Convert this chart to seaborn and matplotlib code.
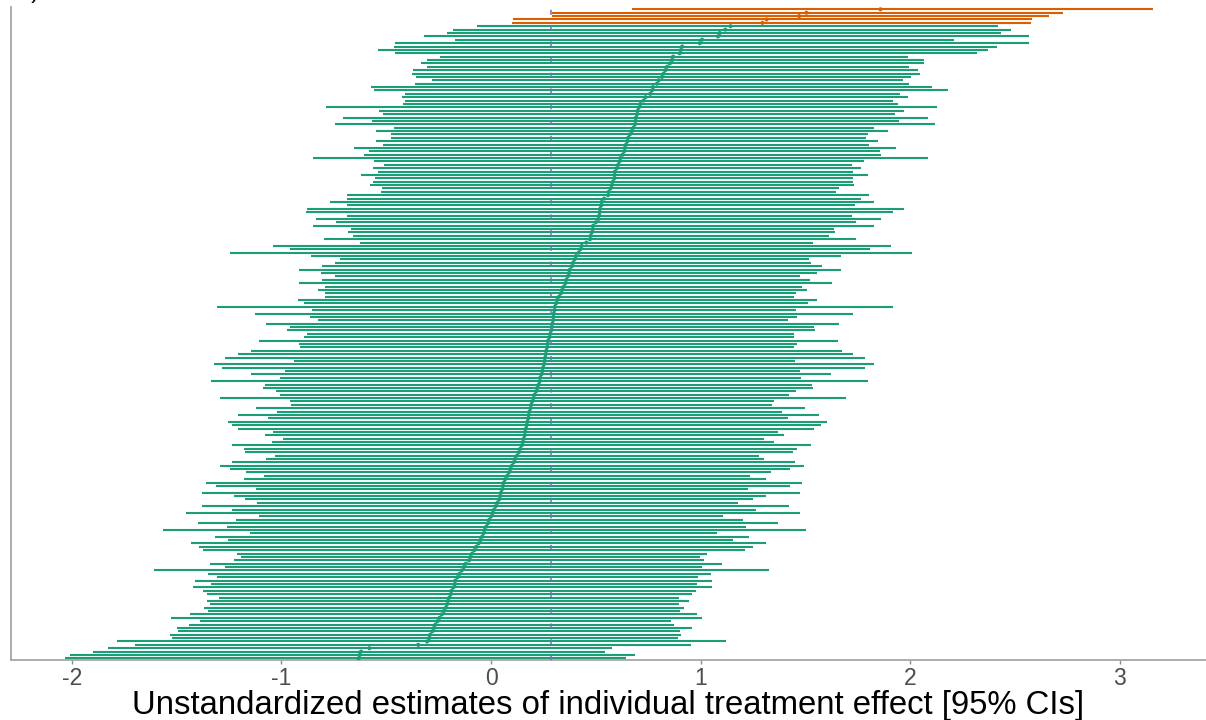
import numpy as np
import pandas as pd
import matplotlib
matplotlib.use("Agg")
import matplotlib.pyplot as plt
import seaborn as sns

# Point estimates per participant, top row first (sorted by estimate)
estimate = [
    1.858, 1.505, 1.47, 1.315, 1.295,
    1.143, 1.118, 1.091, 1.083, 1.007, 0.996, 0.912, 0.907, 0.900, 0.869,
    0.864, 0.853, 0.840, 0.832, 0.824, 0.816, 0.800, 0.792, 0.773, 0.768,
    0.760, 0.737, 0.728, 0.713, 0.705, 0.700, 0.697, 0.692,
    0.690, 0.687, 0.680, 0.672, 0.662, 0.655, 0.650, 0.645, 0.639, 0.635,
    0.628, 0.618, 0.612, 0.607, 0.600, 0.592, 0.590, 0.588, 0.582, 0.576,
    0.570, 0.562, 0.558, 0.540, 0.528, 0.525, 0.521, 0.518, 0.517, 0.512,
    0.500, 0.488, 0.485, 0.480, 0.476, 0.472, 0.455, 0.433, 0.425, 0.418,
    0.405, 0.398, 0.392, 0.385, 0.377, 0.372, 0.366, 0.360, 0.355, 0.348,
    0.340, 0.333, 0.325, 0.315, 0.310, 0.305, 0.302, 0.300, 0.298, 0.296,
    0.293, 0.290, 0.287, 0.283, 0.278, 0.273, 0.270, 0.267, 0.264, 0.261,
    0.259, 0.256, 0.252, 0.249, 0.245, 0.240, 0.235, 0.232, 0.228, 0.222,
    0.215, 0.208, 0.202, 0.196, 0.192, 0.188, 0.184, 0.180, 0.177, 0.174,
    0.170, 0.167, 0.163, 0.160, 0.157, 0.152, 0.146, 0.140, 0.133, 0.125,
    0.115, 0.108, 0.100, 0.092, 0.085, 0.078, 0.067, 0.062, 0.057, 0.052,
    0.048, 0.043, 0.038, 0.030, 0.022, 0.015, 0.008, 0.000, -0.008, -0.015,
    -0.022, -0.030, -0.036, -0.042, -0.050, -0.060, -0.070, -0.080, -0.090, -0.098,
    -0.105, -0.120, -0.130, -0.140, -0.150, -0.160, -0.170, -0.172, -0.180, -0.188,
    -0.192, -0.198, -0.205, -0.210, -0.215, -0.225, -0.235, -0.245, -0.255, -0.265,
    -0.272, -0.280, -0.290, -0.295, -0.305, -0.347, -0.580, -0.620, -0.627, -0.632,
]

# Lower 95% bounds
ci_lower = [
    0.671, 0.29, 0.29, 0.105, 0.10,
    -0.067,
    -0.181, -0.210, -0.318, -0.170, -0.457, -0.465, -0.541, -0.460, -0.242, -0.306,
    -0.334, -0.303, -0.374, -0.377, -0.357, -0.282, -0.361, -0.571, -0.556, -0.409,
    -0.425, -0.412, -0.420, -0.786, -0.536, -0.513,
    -0.707, -0.567, -0.743, -0.465, -0.549, -0.477, -0.477, -0.548, -0.513, -0.653,
    -0.584, -0.605, -0.847, -0.557, -0.509, -0.563, -0.541, -0.621, -0.552, -0.563,
    -0.579, -0.520, -0.524, -0.687, -0.687, -0.770, -0.687, -0.878, -0.882, -0.687,
    -0.837, -0.740,
    -0.850, -0.667, -0.680, -0.659, -0.799, -0.627, -1.041, -0.958, -1.244, -0.859,
    -0.719, -0.742, -0.807, -0.918, -0.811, -0.742, -0.804, -0.918, -0.790, -0.826,
    -0.790, -0.794, -0.923, -0.891, -1.308, -0.852, -1.125, -0.863, -0.823, -1.073,
    -0.961, -0.971, -0.878,
    -0.891, -1.109, -0.918, -0.910, -1.146, -1.205, -1.268, -0.939, -1.321, -1.284,
    -0.982, -1.144, -1.009, -1.335, -1.077, -1.090, -1.026, -1.006, -1.292, -0.958,
    -0.955, -1.122, -1.021, -1.205, -1.062, -1.253, -1.236, -1.205, -1.041, -1.077,
    -0.990, -1.045,
    -1.236, -1.178, -1.173, -1.030, -1.074, -1.236, -1.295, -1.244, -1.168, -1.081,
    -1.178, -1.359, -1.311, -1.122, -1.377, -1.227, -1.174, -1.117, -1.380, -1.235,
    -1.456, -1.106, -1.216, -1.400, -1.260, -1.563, -1.152, -1.316, -1.255, -1.431,
    -1.391, -1.372, -1.210,
    -1.193, -1.224, -1.340, -1.268, -1.606, -1.348, -1.308, -1.411, -1.337, -1.420,
    -1.375, -1.356, -1.297, -1.356, -1.340, -1.369, -1.348, -1.435, -1.527, -1.388,
    -1.443, -1.499, -1.491, -1.531, -1.523, -1.782, -1.698, -1.825, -1.900, -2.008,
    -2.032,
]

# Upper 95% bounds
ci_upper = [
    3.16, 2.73, 2.66, 2.58, 2.575,
    2.42, 2.48, 2.434, 2.568, 2.21, 2.566, 2.413, 2.37, 2.317, 1.99,
    2.068, 2.067, 1.995, 2.035, 2.046, 2.003, 1.968, 1.995, 2.103, 2.18,
    1.949, 1.99, 1.92, 1.943, 2.126, 1.971, 1.926, 2.086,
    1.947, 2.117, 1.825, 1.893, 1.801, 1.787, 1.848, 1.803, 1.931, 1.854,
    1.861, 2.083, 1.781, 1.723, 1.763, 1.725, 1.801, 1.728, 1.727, 1.731,
    1.660, 1.648, 1.803, 1.767, 1.826, 1.737, 1.970, 1.918, 1.721, 1.861,
    1.740, 1.826, 1.637, 1.640, 1.611, 1.743, 1.537, 1.907, 1.808, 2.010,
    1.669, 1.515, 1.526, 1.577, 1.672, 1.555, 1.474, 1.524, 1.628, 1.486,
    1.506, 1.456, 1.444, 1.553, 1.511, 1.918, 1.456, 1.725, 1.459, 1.415,
    1.659, 1.541, 1.545, 1.444, 1.447, 1.655, 1.458, 1.444, 1.674, 1.727,
    1.786, 1.451, 1.825, 1.782, 1.472, 1.624, 1.479, 1.799, 1.533, 1.534,
    1.456, 1.422, 1.696, 1.350, 1.339, 1.498, 1.389, 1.565, 1.416, 1.601,
    1.576, 1.539, 1.367, 1.397, 1.304, 1.349, 1.528, 1.458, 1.439, 1.280,
    1.304, 1.452, 1.495, 1.428, 1.338, 1.237, 1.312, 1.483, 1.425, 1.226,
    1.473, 1.313, 1.250, 1.177, 1.424, 1.265, 1.472, 1.106, 1.200, 1.370,
    1.216, 1.503, 1.080, 1.232, 1.155, 1.311, 1.251, 1.212, 1.030, 0.997,
    1.014, 1.100, 1.008, 1.326, 1.048, 0.988,
    1.056, 0.985, 1.053, 0.979, 0.960, 0.897, 0.943, 0.897, 0.923, 0.903,
    0.981, 1.005, 0.858, 0.875, 0.959, 0.904, 0.906, 0.893, 1.119, 0.953,
    0.575, 0.542, 0.686, 0.646,
]

mean_effect = 0.287
x_ticks = [-2, -1, 0, 1, 2, 3]
x_label = "Unstandardized estimates of individual treatment effect [95% CIs]"

n = len(estimate)
df = pd.DataFrame({"row": np.arange(n), "est": estimate, "lo": ci_lower, "hi": ci_upper})
df["group"] = np.where(df["lo"] > 0, "pos", "ns")
palette = {"ns": "#1B9E77", "pos": "#D95F02"}

sns.set_theme(style="white")
plt.rcParams["font.family"] = ["Liberation Sans", "DejaVu Sans"]

fig = plt.figure(figsize=(12.06, 7.2), dpi=100)
W, H = 1206, 720
ax = fig.add_axes([11 / W, (H - 660.4) / H, (W - 11) / W, (660.4 - 7.3) / H])

# Confidence intervals as horizontal segments, one per participant
for g, sub in df.groupby("group"):
    ax.hlines(sub["row"], sub["lo"], sub["hi"], color=palette[g], linewidth=1.5, zorder=2)

sns.scatterplot(data=df, x="est", y="row", hue="group", palette=palette,
                s=9, marker="o", linewidth=0, legend=False, ax=ax, zorder=3)

# Average treatment effect
ax.axvline(mean_effect, color="#7570B3", linewidth=1.1, dashes=(3.3, 7), zorder=4)

ax.set_xlim((11 - 491) / 209.6, (1206 - 491) / 209.6)
ax.set_ylim(n - 1 + 0.6, -0.6)
ax.set_xticks(x_ticks)
ax.set_xticklabels([str(t) for t in x_ticks])
ax.set_yticks([])
ax.set_ylabel("")
ax.set_xlabel(x_label, fontsize=23.7, color="black", labelpad=0)
ax.tick_params(axis="x", length=3, width=1, color="#8C8C8C", labelsize=16.5,
               labelcolor="#4D4D4D", pad=1.5, bottom=True)
for side in ["top", "right"]:
    ax.spines[side].set_visible(False)
for side in ["left", "bottom"]:
    ax.spines[side].set_color("#A6A6A6")
    ax.spines[side].set_linewidth(1.3)

fig.text(18 / W, 1 + 2 / H, "b)", fontsize=17, color="black", va="baseline")

fig.savefig("out.png", dpi=100)
